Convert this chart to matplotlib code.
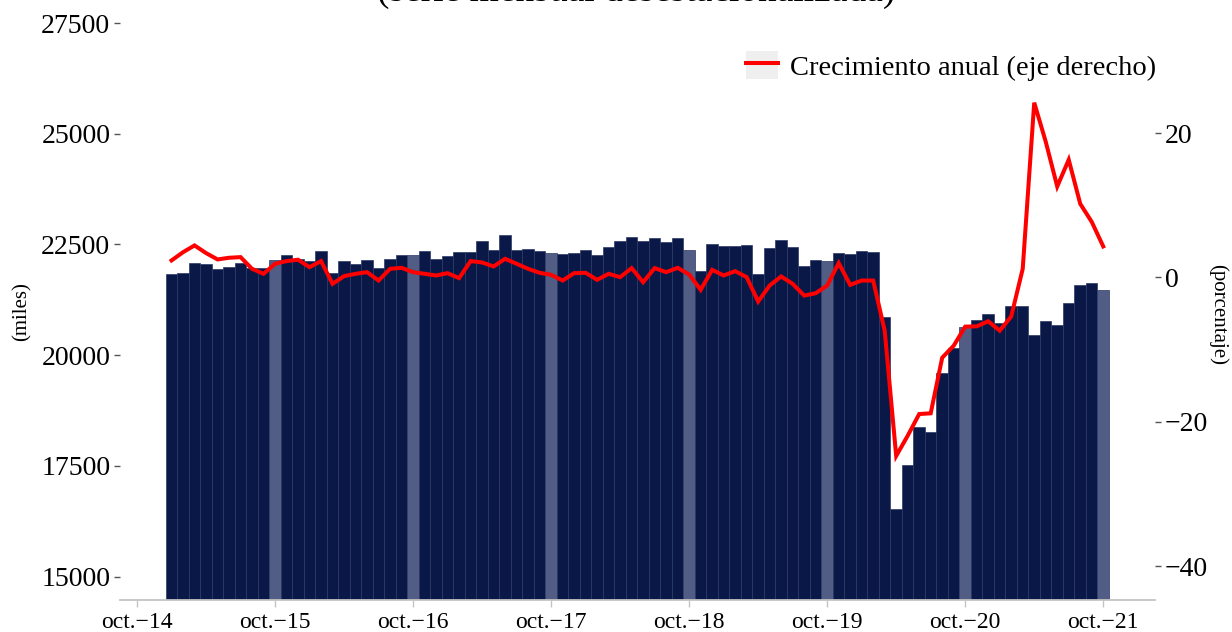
import numpy as np
import matplotlib
matplotlib.use('Agg')
import matplotlib.pyplot as plt
from matplotlib.patches import Patch
from matplotlib.lines import Line2D
from matplotlib.legend_handler import HandlerTuple

plt.rcParams['font.family'] = ['Liberation Serif', 'DejaVu Serif']

# meses desde oct-14 (ene-15 = 3 ... oct-21 = 84)
meses = np.arange(3, 85)

# afiliados, serie mensual desestacionalizada (miles)
afiliados = [21824, 21862, 22079, 22057, 21944, 21982, 22072, 21966, 21966, 22155,
             22268, 22169, 22117, 22342, 21862, 22117, 22065, 22155, 21966, 22162,
             22252, 22260, 22360, 22177, 22245, 22335, 22335, 22574, 22380, 22702,
             22380, 22402, 22357, 22312, 22290, 22305, 22372, 22268, 22440, 22574,
             22657, 22574, 22642, 22560, 22642, 22372, 21892, 22520, 22455, 22455,
             22477, 21839, 22425, 22590, 22440, 22005, 22140, 22117, 22312, 22290,
             22342, 22327, 20850, 16525, 17523, 18386, 18273, 19588, 20151, 20638,
             20804, 20939, 20728, 21104, 21104, 20450, 20773, 20691, 21187, 21592,
             21629, 21464]

# crecimiento anual (%)
crecimiento = [2.36, 3.5, 4.44, 3.38, 2.5, 2.73, 2.82, 1.2, 0.51, 1.9,
               2.27, 2.46, 1.43, 2.27, -0.88, 0.19, 0.51, 0.74, -0.42, 1.2,
               1.34, 0.74, 0.51, 0.28, 0.6, -0.09, 2.27, 2.08, 1.53, 2.59,
               1.9, 1.2, 0.65, 0.37, -0.42, 0.6, 0.65, -0.32, 0.51, 0.05,
               1.3, -0.65, 1.3, 0.74, 1.34, 0.42, -1.71, 1.06, 0.28, 0.88,
               0.05, -3.33, -1.11, 0.14, -0.88, -2.5, -2.18, -1.11, 1.99, -1.02,
               -0.42, -0.42, -7.36, -24.7, -21.9, -18.9, -18.8, -11.1, -9.44, -6.8,
               -6.76, -6.06, -7.36, -5.4, 1.2, 24.2, 18.8, 12.6, 16.3, 10.2,
               7.7, 4.3]

tick_meses = np.arange(0, 85, 12)
tick_labels = ['oct.\u221214', 'oct.\u221215', 'oct.\u221216', 'oct.\u221217',
               'oct.\u221218', 'oct.\u221219', 'oct.\u221220', 'oct.\u221221']

navy = '#0a1848'
navy_light = '#515d84'
colores = [navy_light if (m % 12 == 0) else navy for m in meses]

fig = plt.figure(figsize=(12.32, 6.32), dpi=100)
ax = fig.add_axes([120 / 1232, 32 / 632, (1155 - 120) / 1232, 600 / 632])

ax.bar(meses, afiliados, width=1.0, color=colores, edgecolor='#2c3866', linewidth=0.5)
ax.set_xlim(-1.48, 88.5)
ax.set_ylim(14470, 28020)
ax.set_yticks([15000, 17500, 20000, 22500, 25000, 27500])
ax.set_xticks(tick_meses)
ax.set_xticklabels(tick_labels)

for s in ['top', 'left', 'right']:
    ax.spines[s].set_visible(False)
ax.spines['bottom'].set_color('#c4c4c4')
ax.spines['bottom'].set_linewidth(1.3)
ax.tick_params(axis='y', labelsize=20, length=4, width=1, color='#555555', pad=3)
ax.tick_params(axis='x', labelsize=17, length=5, width=1, color='#c4c4c4', pad=4)

# eje derecho: crecimiento
ax2 = ax.twinx()
ax2.plot(meses, crecimiento, color='#ff0000', linewidth=2.9, solid_joinstyle='miter')
ax2.set_ylim(-44.64, 38.41)
ax2.set_yticks([-40, -20, 0, 20])
for s in ['top', 'left', 'right', 'bottom']:
    ax2.spines[s].set_visible(False)
ax2.tick_params(axis='y', labelsize=20, length=4, width=1, color='#555555', pad=3)

# leyenda: clave con fondo gris y la línea encima
handle = (Patch(facecolor='#efefef', edgecolor='none'),
          Line2D([], [], color='#ff0000', linewidth=2.9))
ax2.legend([handle], ['Crecimiento anual (eje derecho)'],
           handler_map={tuple: HandlerTuple(ndivide=1, pad=0)},
           loc='center right', bbox_to_anchor=(1156 / 1232, 1 - 66 / 632),
           bbox_transform=fig.transFigure, frameon=False, fontsize=20.5,
           handlelength=1.15, handleheight=1.15, handletextpad=0.4,
           borderpad=0, borderaxespad=0)

fig.text(22 / 1232, 1 - 312 / 632, '(miles)', rotation=90, ha='center', va='center', fontsize=15)
fig.text(1218 / 1232, 1 - 314 / 632, '(porcentaje)', rotation=-90, ha='center', va='center', fontsize=15)
# título recortado por arriba, como en el original
fig.text(636 / 1232, 1 - 1 / 632, '(serie mensual desestacionalizada)', ha='center',
         va='baseline', fontsize=27)

fig.savefig('out.png', dpi=100)
